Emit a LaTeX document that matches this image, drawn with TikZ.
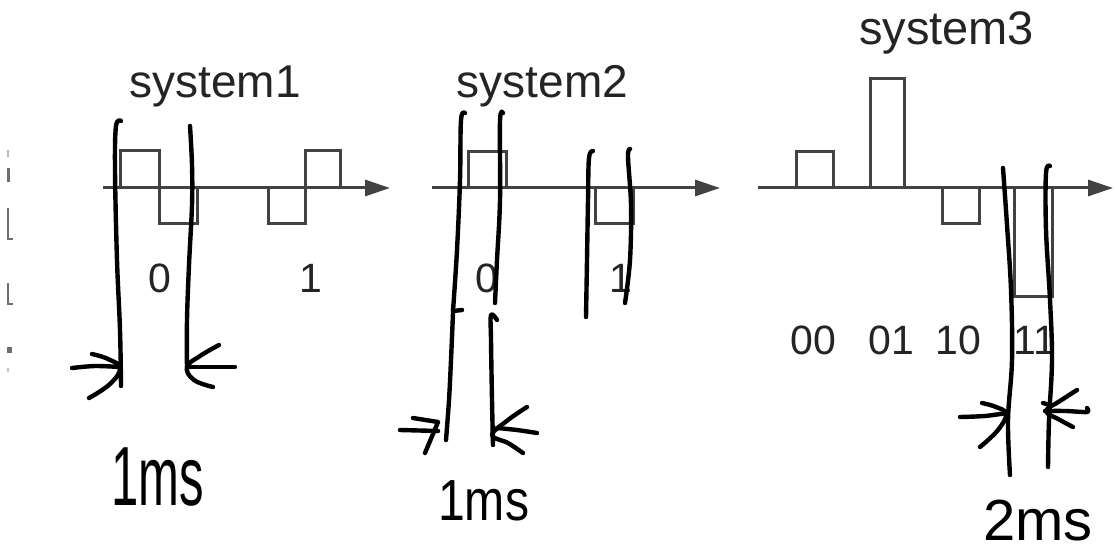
\documentclass[tikz,border=0pt]{standalone}
\usepackage{fontspec}
\usepackage{graphicx}
\setmainfont{Liberation Sans}
\usetikzlibrary{arrows.meta}
\definecolor{sig}{RGB}{66,66,66}
\definecolor{txt}{RGB}{36,36,36}
\definecolor{frag}{RGB}{110,110,110}
\tikzset{
  axisline/.style={draw=sig, line width=3pt, -{Triangle[length=25pt,width=16pt]}},
  pulse/.style={draw=sig, line width=3pt, line join=miter},
  hand/.style={draw=black, line width=4.4pt, line cap=round, line join=round},
  title/.style={text=txt, inner sep=0pt, font=\fontsize{46}{50}\selectfont},
  digit/.style={text=txt, inner sep=0pt, font=\fontsize{41}{46}\selectfont},
  handtext/.style={text=black, inner sep=0pt, anchor=base west},
  fragment/.style={draw=frag, line width=2.2pt}
}
\begin{document}
\begin{tikzpicture}[x=1pt,y=-1pt]
\useasboundingbox (0,0) rectangle (1115,553);
\fill[white] (0,0) rectangle (1115,553);

% fragments at the left edge
\draw[fragment, draw=frag!50] (8,150) -- (8,157);
\draw[fragment, line width=3pt] (8,168) -- (8,182);
\draw[fragment] (8,208) -- (8,239) -- (13,239);
\draw[fragment] (8,283) -- (8,304) -- (13,304);
\fill[frag] (7,347) rectangle (12,353);
\draw[fragment, draw=frag!40] (8,368) -- (8,372);

% ---------- system1 ----------
\node[title] (t1) at (215,86.5) {system1};
\draw[axisline] (103,188) -- (390,188);
\draw[pulse] (120,188) -- (120,151) -- (159,151) -- (159,224) -- (197,224) -- (197,188);
\draw[pulse] (268,188) -- (268,224) -- (305,224) -- (305,151) -- (340,151) -- (340,188);
\node[digit] (s1d0) at (160,278) {0};
\node[digit] (s1d1) at (311,278) {1};

% ---------- system2 ----------
\node[title] (t2) at (542.5,86.5) {system2};
\draw[axisline] (432,188) -- (720,188);
\draw[pulse] (468,188) -- (468,152) -- (506,152) -- (506,188);
\draw[pulse] (595,188) -- (595,224) -- (633,224) -- (633,188);
\node[digit] (s2d0) at (487,278) {0};
\node[digit] (s2d1) at (621,278) {1};

% ---------- system3 ----------
\node[title, font=\fontsize{47}{50}\selectfont] (t3) at (946.5,33) {system3};
\draw[axisline] (758,188) -- (1113,188);
\draw[pulse] (796,188) -- (796,152) -- (833,152) -- (833,188);
\draw[pulse] (870,188) -- (870,79) -- (904,79) -- (904,188);
\draw[pulse] (942,188) -- (942,224) -- (979,224) -- (979,188);
\draw[pulse] (1014,188) -- (1014,296) -- (1052,296) -- (1052,188);
\node[digit] (s3a) at (813,340.5) {00};
\node[digit] (s3b) at (891,340.5) {01};
\node[digit] (s3c) at (958,340.5) {10};
\node[digit] (s3d) at (1035,340.5) {11};

% ---------- handwriting: system1 ----------
\draw[hand] plot[smooth, tension=0.6] coordinates {(121,121) (116,126) (115,170) (117,260) (120,330) (121,386)};
\draw[hand] plot[smooth, tension=0.6] coordinates {(190,126) (192,165) (192,205) (189,265) (187,320) (187,370)};
\draw[hand] plot[smooth] coordinates {(72,368) (95,366) (120,367)};
\draw[hand] plot[smooth, tension=0.7] coordinates {(92,354) (108,359) (120,368) (110,384) (89,398)};
\draw[hand] plot[smooth] coordinates {(235,367) (210,367) (189,367)};
\draw[hand] plot[smooth, tension=0.7] coordinates {(219,345) (200,356) (187,367) (194,380) (213,387)};
\node[handtext] (h1) at (111,505) {\fontsize{70}{70}\selectfont\scalebox{0.7}[1.2]{1ms}};

% ---------- handwriting: system2 ----------
\draw[hand] plot[smooth, tension=0.6] coordinates {(465,113) (461,120) (460,180) (457,250) (453,311)};
\draw[hand] (453,311) -- (462,310);
\draw[hand] plot[smooth, tension=0.6] coordinates {(453,313) (451,360) (449,400) (446,440)};
\draw[hand] plot[smooth, tension=0.6] coordinates {(503,113) (500,121) (500,200) (497,260) (495,303)};
\draw[hand] plot[smooth, tension=0.6] coordinates {(497,320) (491,315) (491,340) (492,400) (493,445)};
\draw[hand] (400,430) -- (438,431);
\draw[hand] (413,418) -- (438,422) -- (425,453);
\draw[hand] plot[smooth] coordinates {(497,428) (517,430) (537,433)};
\draw[hand] plot[smooth, tension=0.6] coordinates {(527,407) (508,420) (492,435) (508,443) (523,453)};
\node[handtext] (h2) at (438,520) {\fontsize{58}{58}\selectfont\scalebox{0.83}[1]{1ms}};
\draw[hand] plot[smooth, tension=0.6] coordinates {(593,151) (589,158) (588,200) (587,260) (586,317)};
\draw[hand] plot[smooth, tension=0.6] coordinates {(630,149) (628,157) (631,205) (630,260) (625,303)};

% ---------- handwriting: system3 ----------
\draw[hand] plot[smooth, tension=0.6] coordinates {(1003,168) (1007,225) (1011,290) (1012,360) (1008,420) (1010,475)};
\draw[hand] plot[smooth, tension=0.6] coordinates {(1050,166) (1046,173) (1046,230) (1050,300) (1052,360) (1049,420) (1048,467)};
\draw[hand] plot[smooth] coordinates {(960,417) (985,416) (1007,413)};
\draw[hand] plot[smooth, tension=0.7] coordinates {(982,403) (996,407) (1006,414) (998,430) (980,447)};
\draw[hand] plot[smooth, tension=0.6] coordinates {(1077,390) (1060,401) (1046,411) (1060,420) (1073,427)};
\draw[hand] plot[smooth] coordinates {(1045,411) (1066,411) (1087,412) (1087,408)};
\draw[hand] (1043,403) -- (1050,405);
\node[handtext] (h3) at (983,540) {\fontsize{58}{58}\selectfont 2ms};
\end{tikzpicture}
\end{document}
